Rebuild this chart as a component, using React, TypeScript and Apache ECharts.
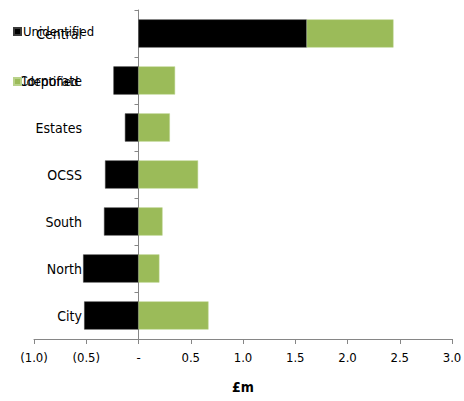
import React, { useEffect, useRef } from "react";
import * as echarts from "echarts";

const categories = ["Central", "Corporate", "Estates", "OCSS", "South", "North", "City"];
const unidentified = [1.61, -0.24, -0.13, -0.32, -0.33, -0.53, -0.52];
const identified = [0.83, 0.35, 0.3, 0.57, 0.23, 0.2, 0.67];
const seriesNames = ["Unidentified", "Identified"];

const FONT = "'Liberation Sans Narrow', 'DejaVu Sans Condensed', 'Liberation Sans', sans-serif";

export default function App() {
  const ref = useRef<HTMLDivElement>(null);
  useEffect(() => {
    if (!ref.current) return;
    const chart = echarts.init(ref.current, undefined, { renderer: "svg" });
    chart.setOption({
      animation: false,
      textStyle: { fontFamily: FONT },
      grid: { left: 34, right: 12, top: 10, bottom: 62, containLabel: false, outerBoundsMode: "none" },
      legend: {
        orient: "vertical",
        left: 8,
        top: 20,
        itemWidth: 7,
        itemHeight: 7,
        itemGap: 37,
        icon: "rect",
        data: seriesNames,
        textStyle: { fontFamily: FONT, fontSize: 13, color: "#000", padding: [0, 0, 0, -3] },
      },
      xAxis: {
        type: "value",
        min: -1,
        max: 3,
        interval: 0.5,
        name: "£m",
        nameLocation: "middle",
        nameGap: 41,
        nameTextStyle: { fontFamily: FONT, fontSize: 14, fontWeight: "bold", color: "#000" },
        axisLine: { show: true, lineStyle: { color: "#868686" } },
        axisTick: { show: true, length: 5, lineStyle: { color: "#868686" } },
        splitLine: { show: false },
        axisLabel: {
          fontFamily: FONT,
          fontSize: 13,
          color: "#000",
          margin: 12,
          formatter: (v: number) => {
            if (Math.abs(v) < 1e-9) return "-";
            if (v < 0) return "(" + Math.abs(v).toFixed(1) + ")";
            return v.toFixed(1);
          },
        },
      },
      yAxis: {
        type: "category",
        data: categories,
        inverse: true,
        axisLine: { show: true, onZero: true, lineStyle: { color: "#868686" } },
        axisTick: { show: true, length: 4, lineStyle: { color: "#868686" } },
        axisLabel: { fontFamily: FONT, fontSize: 14, color: "#000", margin: -48, align: "right" },
      },
      series: [
        {
          name: seriesNames[0],
          type: "bar",
          stack: "total",
          data: unidentified,
          barCategoryGap: "40%",
          itemStyle: { color: "#000000", borderColor: "#3a3a3a", borderWidth: 0.5 },
        },
        {
          name: seriesNames[1],
          type: "bar",
          stack: "total",
          data: identified,
          barCategoryGap: "40%",
          itemStyle: { color: "#9BBB59", borderColor: "#b9d28a", borderWidth: 0.5 },
        },
      ],
    });
    return () => chart.dispose();
  }, []);
  return <div ref={ref} style={{ width: 464, height: 401, position: "absolute", left: 0, top: 0 }} />;
}
